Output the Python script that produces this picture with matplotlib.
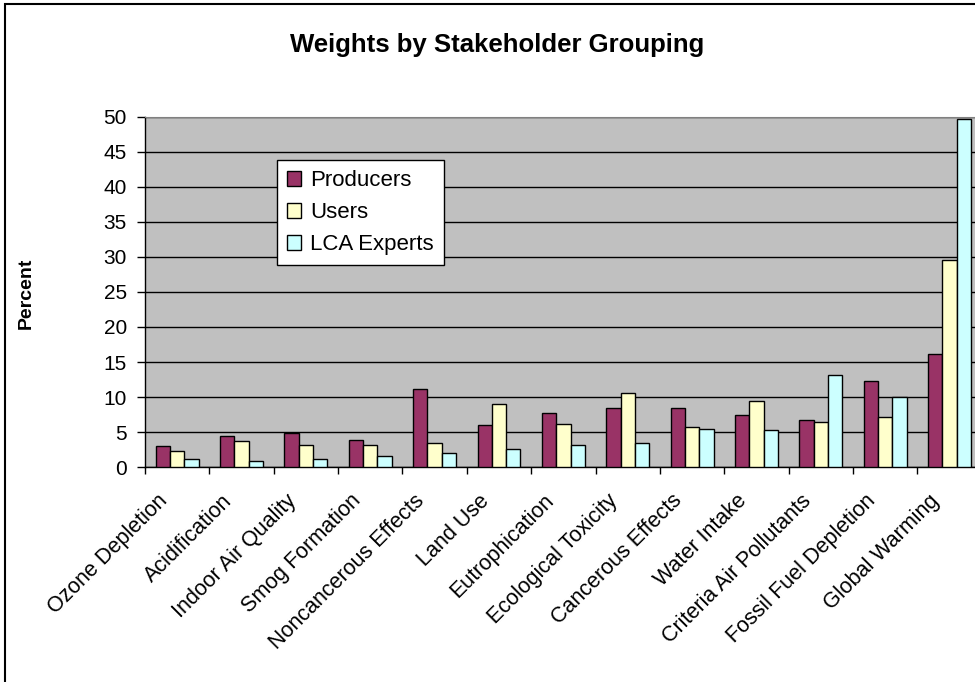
import matplotlib.pyplot as plt
import matplotlib.transforms as mtransforms
from matplotlib.patches import Rectangle
import numpy as np

plt.rcParams['font.family'] = ['Liberation Sans', 'DejaVu Sans']

categories = ['Ozone Depletion', 'Acidification', 'Indoor Air Quality', 'Smog Formation',
              'Noncancerous Effects', 'Land Use', 'Eutrophication', 'Ecological Toxicity',
              'Cancerous Effects', 'Water Intake', 'Criteria Air Pollutants',
              'Fossil Fuel Depletion', 'Global Warming']
producers = [3.0, 4.4, 4.9, 3.9, 11.1, 6.0, 7.7, 8.4, 8.4, 7.4, 6.7, 12.3, 16.2]
users = [2.3, 3.7, 3.2, 3.2, 3.4, 9.0, 6.2, 10.6, 5.8, 9.4, 6.5, 7.2, 29.6]
lca_experts = [1.2, 0.9, 1.2, 1.6, 2.1, 2.6, 3.2, 3.5, 5.5, 5.3, 13.2, 10.0, 49.6]

series = [('Producers', producers, '#993366'),
          ('Users', users, '#FFFFCC'),
          ('LCA Experts', lca_experts, '#CCFFFF')]

fig = plt.figure(figsize=(9.75, 6.82), dpi=100)
ax = fig.add_axes([145 / 975, 1 - 467.3 / 682, 836.7 / 975, 350.8 / 682])
ax.set_facecolor('#C0C0C0')

x = np.arange(len(categories))
w = 1 / 4.5
for i, (name, vals, col) in enumerate(series):
    ax.bar(x + (i - 1) * w, vals, w, color=col, edgecolor='black', linewidth=1.0,
           label=name, zorder=3)

ax.set_xlim(-0.5, len(categories) - 0.5)
ax.set_ylim(0, 50)
ax.set_yticks(np.arange(0, 51, 5))
ax.yaxis.grid(True, color='black', linewidth=1.0, zorder=1)
ax.set_axisbelow(True)
ax.tick_params(axis='y', direction='out', length=5.5, width=1, pad=7.5, labelsize=15)

# tick marks between groups, labels at group centres
ax.set_xticks(np.arange(-0.5, len(categories), 1))
ax.set_xticklabels([])
ax.tick_params(axis='x', which='major', direction='out', length=5, width=1)
ax.set_xticks(x, minor=True)
ax.set_xticklabels(categories, minor=True, rotation=45, ha='right', va='center',
                   rotation_mode='anchor', fontsize=15.5)
ax.tick_params(axis='x', which='minor', length=0, pad=22)
offset = mtransforms.ScaledTranslation(-13 / 100, 0, fig.dpi_scale_trans)
for lbl in ax.get_xticklabels(minor=True):
    lbl.set_transform(lbl.get_transform() + offset)

for s in ['left', 'bottom']:
    ax.spines[s].set_color('black')
    ax.spines[s].set_linewidth(1.0)
ax.spines['top'].set_color('#808080')
ax.spines['right'].set_color('#808080')

leg = ax.legend(loc='upper left', bbox_to_anchor=(277 / 975, 1 - 160 / 682),
                bbox_transform=fig.transFigure, borderaxespad=0, fancybox=False,
                framealpha=1, edgecolor='black', fontsize=16, handlelength=0.65,
                handleheight=0.65, handletextpad=0.4, labelspacing=0.5,
                borderpad=0.45)
leg.get_frame().set_linewidth(1.0)

fig.text(497 / 975, 1 - 45 / 682, 'Weights by Stakeholder Grouping', ha='center',
         va='center', fontsize=18.5, fontweight='bold')
fig.text(26 / 975, 1 - 293 / 682, 'Percent', ha='center', va='center', rotation=90,
         fontsize=14, fontweight='bold')

fig.patches.append(Rectangle((5 / 975, -0.05), 1.1, 1.05 - 4 / 682, transform=fig.transFigure,
                             fill=False, edgecolor='black', linewidth=1.5))

fig.savefig('out.png', dpi=100)
